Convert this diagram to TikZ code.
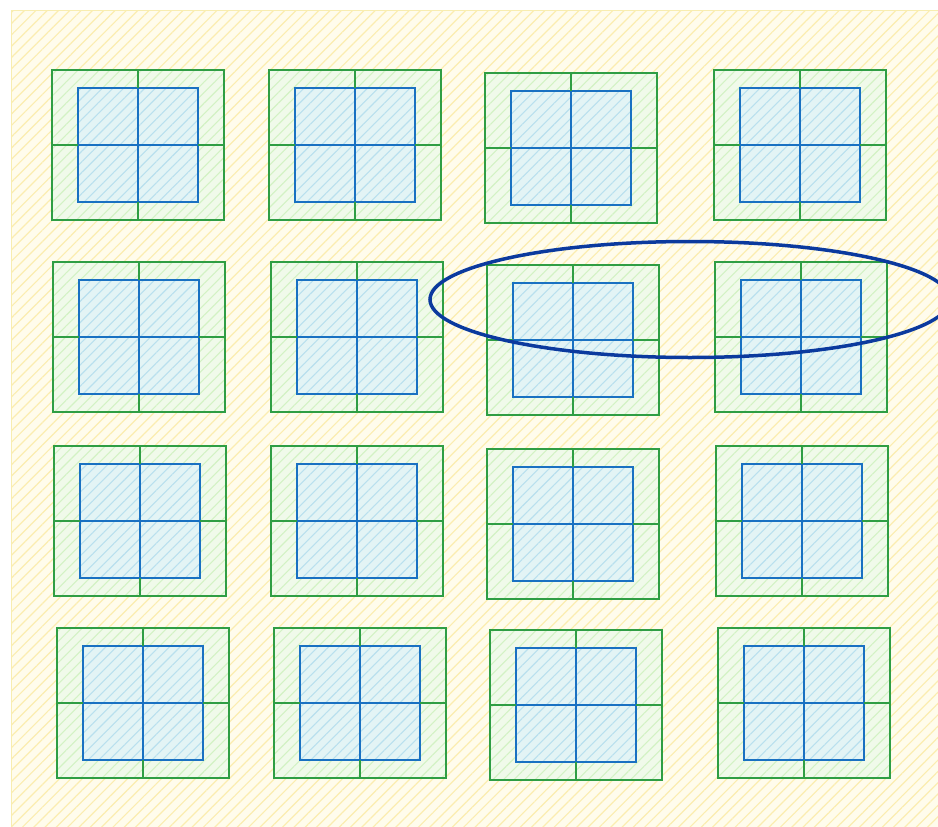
\documentclass[tikz,border=0pt]{standalone}
\usetikzlibrary{patterns.meta}
\definecolor{ylwline}{HTML}{FBEDB0}
\definecolor{ylwfill}{HTML}{FFFCEC}
\definecolor{ylwedge}{HTML}{F8EDB0}
\definecolor{grnline}{HTML}{2F9E44}
\definecolor{grnfill}{HTML}{F0FAEA}
\definecolor{grnhatch}{HTML}{D3F2C4}
\definecolor{blueline}{HTML}{1971C2}
\definecolor{bluefill}{HTML}{E3F4F5}
\definecolor{bluehatch}{HTML}{B9E0EE}
\definecolor{ellcol}{HTML}{0B3A9E}
\tikzset{
  bgbox/.style={draw=ylwedge, line width=1pt,
    preaction={fill=ylwfill},
    preaction={pattern={Lines[angle=45,distance=8pt,line width=1.2pt]}, pattern color=ylwline}},
  gcell/.style={draw=grnline, line width=1.6pt,
    preaction={fill=grnfill},
    preaction={pattern={Lines[angle=45,distance=7.5pt,line width=1.1pt]}, pattern color=grnhatch}},
  bcell/.style={draw=blueline, line width=1.6pt,
    preaction={fill=bluefill},
    preaction={pattern={Lines[angle=45,distance=7.5pt,line width=1.1pt]}, pattern color=bluehatch}},
  ring/.style={draw=ellcol, line width=3.5pt}
}
\newcommand{\unitgroup}[2]{%
  \path[gcell] (#1-86,#2-75) rectangle (#1,#2);
  \path[gcell] (#1,#2-75) rectangle (#1+86,#2);
  \path[gcell] (#1-86,#2) rectangle (#1,#2+75);
  \path[gcell] (#1,#2) rectangle (#1+86,#2+75);
  \path[bcell] (#1-60,#2-57) rectangle (#1,#2);
  \path[bcell] (#1,#2-57) rectangle (#1+60,#2);
  \path[bcell] (#1-60,#2) rectangle (#1,#2+57);
  \path[bcell] (#1,#2) rectangle (#1+60,#2+57);
  \draw[grnline, line width=1.6pt] (#1,#2-75) -- (#1,#2-57) (#1,#2+57) -- (#1,#2+75)
     (#1-86,#2) -- (#1-60,#2) (#1+60,#2) -- (#1+86,#2);
}
\begin{document}
\begin{tikzpicture}[x=1pt,y=-1pt]
\useasboundingbox (0,0) rectangle (938,827);
\clip (0,0) rectangle (938,827);
\path[bgbox] (11,10) rectangle (950,840);
\foreach \cx/\cy in {138/145,355/145,571/148,800/145,
                     139/337,357/337,573/340,801/337,
                     140/521,357/521,573/524,802/521,
                     143/703,360/703,576/705,804/703}{
  \unitgroup{\cx}{\cy}
}
\draw[ring] (690,299.5) ellipse [x radius=260, y radius=58];
\end{tikzpicture}
\end{document}
